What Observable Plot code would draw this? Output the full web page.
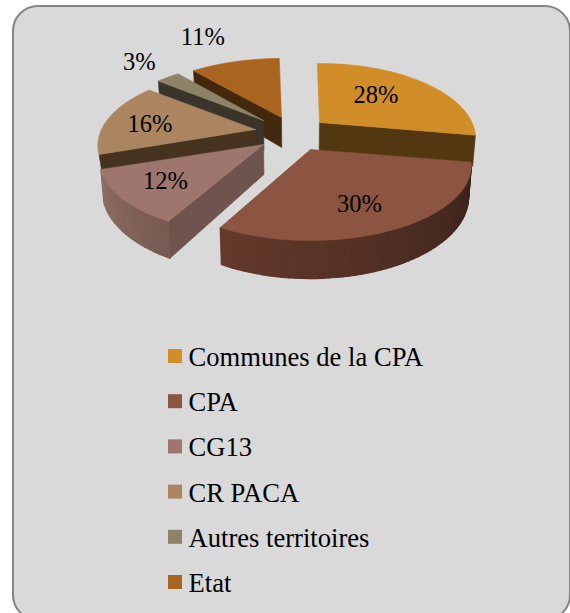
<!DOCTYPE html>
<html><head><meta charset="utf-8">
<style>html,body{margin:0;padding:0;background:#fff;overflow:hidden}</style>
<script src="https://cdn.jsdelivr.net/npm/d3@7"></script>
<script src="https://cdn.jsdelivr.net/npm/@observablehq/plot@0.6"></script>
</head><body><div id="root"></div>
<script>
const categories = ["Communes de la CPA", "CPA", "CG13", "CR PACA", "Autres territoires", "Etat"];
const shares = [28, 30, 12, 16, 3, 11];
const shareLabels = ["28%", "30%", "12%", "16%", "3%", "11%"];
const topColors = ["#D18D27", "#8C5541", "#9E766D", "#AA8560", "#8D8468", "#A9641F"];
const edgeColors = ["#533710", null, "#6E544C", "#45321F", "#3A342A", "#44280C"];

// Pie geometry: each exploded slice's tip, and the perspective camera.
const tips = [[319,122],[310,149],[263,144],[255,129],[263,120],[281,117]];
const widen = [1, 1.03, 1.05, 1.01, 1, 1.03];
const startNudge = [0, 0, 1.2, 0, 0, 0];
const edgeDepth = [1, 1, 1, 0.55, 1, 1];
const RX = 152.5, RY = 71.6, K = 0.213, DEPTH = 30, VX = 295, START = -1;
const labelRadius = [0.575, 0.71, 0.72, 0.70, 1.40, 1.61];
const labelTurn = [-5, 4, 0, -3.5, 1.2, -3.3];
const paintOrder = [5, 4, 3, 0, 2, 1];

const rad = d => d * Math.PI / 180;
function topPt(i, r, deg) {
  const u = r * Math.sin(rad(deg)), v = r * Math.cos(rad(deg)), w = 1 + K * v;
  return {x: tips[i][0] + RX * widen[i] * u / w, y: tips[i][1] - RY * v / w, w};
}
function lowPt(p, f = 1) {
  return {x: VX + (p.x - VX) * 0.985, y: p.y + f * DEPTH / p.w};
}
let acc = START;
const spans = shares.map((s, i) => { const a = acc; acc += s * 3.6; return [a + startNudge[i], acc]; });

const rows = [], wallRows = [];
let nextId = 0;
function poly(pts, color, out = rows) {
  const id = nextId++;
  [...pts, pts[0]].forEach(p => out.push({id, x: p.x, y: p.y, color}));
}
function arc(i, a, b, n) {
  return d3.range(n + 1).map(k => topPt(i, 1, a + (b - a) * k / n));
}
function sideWall(i, deg) {
  const t0 = topPt(i, 0, deg), t1 = topPt(i, 1, deg);
  poly([t0, t1, lowPt(t1, edgeDepth[i]), lowPt(t0, edgeDepth[i])], edgeColors[i]);
}
function outerWall(i, a, b, shade) {
  const n = Math.ceil(Math.abs(b - a) / 2);
  const pts = arc(i, a, b, n);
  for (let k = 0; k < n; k++) {
    poly([pts[k], pts[k+1], lowPt(pts[k+1]), lowPt(pts[k])], shade(k / n), wallRows);
  }
}
const cpaShade = d3.interpolateRgbBasis(["#38211A", "#4F2E24", "#66392B"]);
const cgShade = d3.interpolateRgb("#775A52", "#8F6F67");

// Painted back to front as one ordered list of line marks.
const layers = [];
function flush() {
  if (rows.length) layers.push(Plot.line(rows.splice(0), {x: "x", y: "y", z: "id", fill: "color", stroke: "color", strokeWidth: 0.6, curve: "linear"}));
  if (wallRows.length) layers.push(Plot.line(wallRows.splice(0), {x: "x", y: "y", z: "id", fill: "color", stroke: "color", strokeWidth: 1.2, curve: "linear"}));
}
for (const i of paintOrder) {
  const [a, b] = spans[i];
  if (i === 5 || i === 4 || i === 3 || i === 2) sideWall(i, a);
  if (i === 0) sideWall(i, b);
  flush();
  if (i === 1) outerWall(i, a, b, cpaShade);
  if (i === 2) outerWall(i, a, b, cgShade);
  flush();
  poly([topPt(i, 0, a), ...arc(i, a, b, Math.ceil((b - a) / 1.5))], topColors[i]);
  flush();
}

const labels = shareLabels.map((text, i) => {
  const mid = (spans[i][0] + spans[i][1]) / 2 + labelTurn[i];
  return {text, ...topPt(i, labelRadius[i], mid)};
});
const legendTop = i => 349 + 45.2 * i;
const legend = categories.map((name, i) => ({name, color: topColors[i], y1: legendTop(i), y2: legendTop(i) + 14, y: legendTop(i) + 8}));
const font = "'Liberation Serif', 'Times New Roman', serif";

const svg = Plot.plot({
  width: 570, height: 613,
  margin: 0,
  x: {domain: [0, 570], range: [0, 570], axis: null},
  y: {domain: [0, 613], range: [0, 613], axis: null},
  color: {type: "identity"},
  style: {background: "#fff", overflow: "hidden"},
  marks: [
    Plot.rect([{}], {x1: () => 13, x2: () => 570, y1: () => 6, y2: () => 620, rx: 25, fill: "#D9D9D9", stroke: "#858585", strokeWidth: 2}),
    ...layers,
    Plot.text(labels, {x: "x", y: "y", text: "text", fontFamily: font, fontSize: 24.5, fill: "#000"}),
    Plot.rect(legend, {x1: () => 168, x2: () => 182, y1: "y1", y2: "y2", fill: "color"}),
    Plot.text(legend, {x: () => 188, y: "y", text: "name", textAnchor: "start", fontFamily: font, fontSize: 26.6, fill: "#000"})
  ]
});
document.getElementById("root").append(svg);
</script></body></html>
